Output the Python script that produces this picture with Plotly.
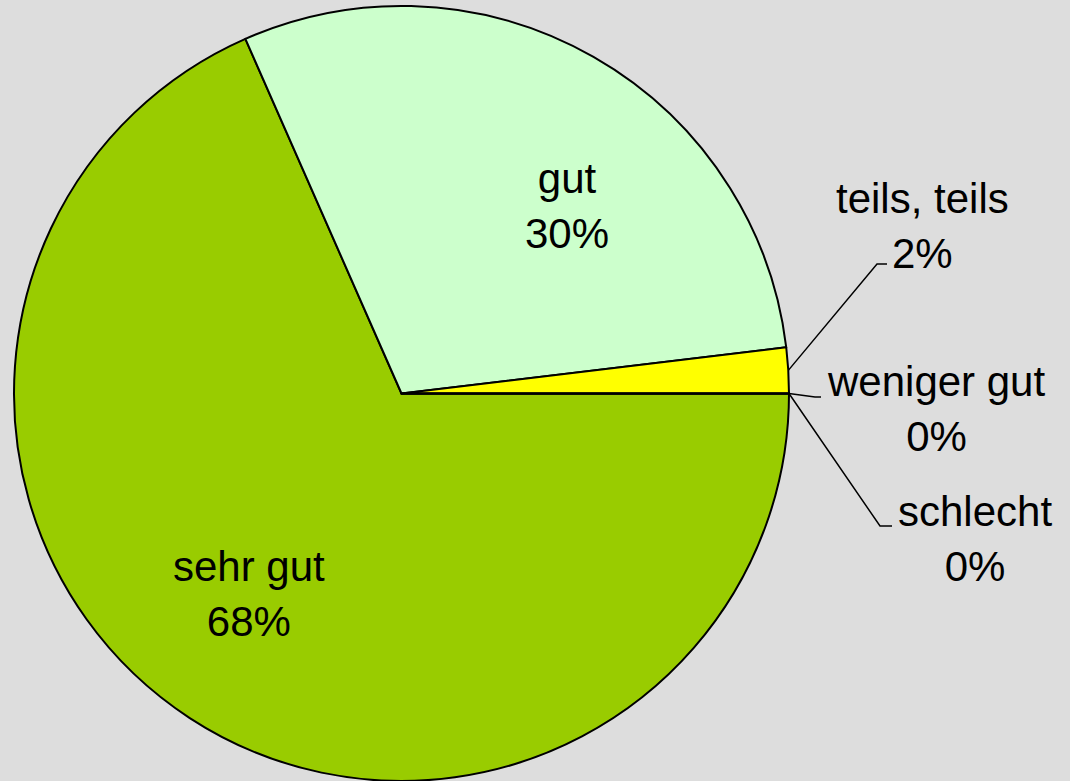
import math
import plotly.graph_objects as go

# ---- data ----
categories = ["sehr gut", "gut", "teils, teils", "weniger gut", "schlecht"]
values = [68.4, 29.7, 1.9, 0, 0]
colors = ["#99CC00", "#CCFFCC", "#FFFF00", "#FF9900", "#FF0000"]

W, H = 1070, 781
CX, CY, R = 401.5, 393.5, 387.5  # pixel geometry of the pie (from top-left)

total = sum(values)
pct_labels = [f"{round(100 * v / total)}%" for v in values]

fig = go.Figure(go.Pie(
    labels=categories,
    values=values,
    sort=False,
    direction="clockwise",
    rotation=90,
    marker=dict(colors=colors, line=dict(color="#000000", width=2)),
    textinfo="none",
    hoverinfo="label+percent",
    domain=dict(x=[(CX - R) / W, (CX + R) / W], y=[0, 2 * R / H]),
    showlegend=False,
))

def px(x, y):
    return x / W, 1 - y / H

# label placement (pixel centres) and leader-line end points (None = inside label)
label_pos = {
    "sehr gut": (249, 594, None),
    "gut": (567, 206, None),
    "teils, teils": (922, 226, [(877, 264), (887, 264)]),
    "weniger gut": (936, 409, [(815, 397), (821, 397)]),
    "schlecht": (975, 539, [(880, 526), (892, 526)]),
}

start = 0.0  # degrees, measured counter-clockwise from east; pie goes clockwise
annotations = []
shapes = []
for cat, v, p in zip(categories, values, pct_labels):
    span = 360.0 * v / total
    mid = start - span / 2.0
    start -= span
    lx, ly, leader = label_pos[cat]
    ax, ay = px(lx, ly)
    annotations.append(dict(
        x=ax, y=ay, xref="paper", yref="paper",
        text=f"{cat}<br>{p}", showarrow=False,
        font=dict(family="Liberation Sans, Arial, sans-serif", size=42, color="#000000"),
        align="center", xanchor="center", yanchor="middle",
    ))
    if leader:
        ex = CX + R * math.cos(math.radians(mid))
        ey = CY - R * math.sin(math.radians(mid))
        pts = [(ex, ey)] + leader
        path = "M " + " L ".join(f"{px(a, b)[0]},{px(a, b)[1]}" for a, b in pts)
        shapes.append(dict(type="path", path=path, xref="paper", yref="paper",
                           line=dict(color="#000000", width=1.5)))

fig.update_layout(
    width=W, height=H,
    margin=dict(l=0, r=0, t=0, b=0),
    paper_bgcolor="#DDDDDD",
    plot_bgcolor="#DDDDDD",
    annotations=annotations,
    shapes=shapes,
)

fig.write_html(
    "out.html",
    config={"displayModeBar": False},
    post_script="document.body.style.margin='0px';document.body.style.overflow='hidden';",
)
